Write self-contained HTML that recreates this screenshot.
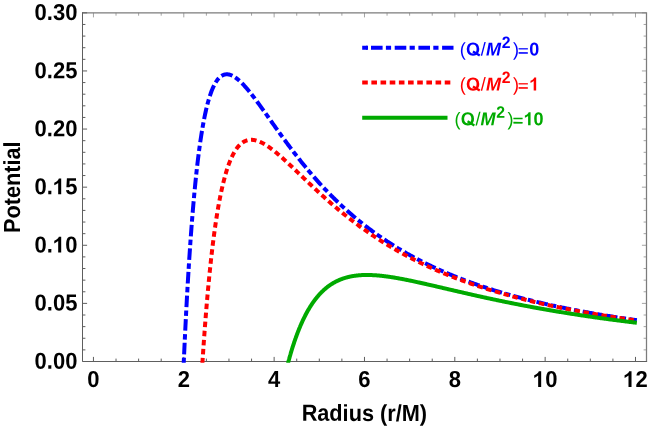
<!DOCTYPE html>
<html><head><meta charset="utf-8"><title>Potential</title>
<style>
html,body{margin:0;padding:0;background:#fff;}
svg{display:block;will-change:transform;text-rendering:geometricPrecision;font-family:"Liberation Sans",sans-serif;}
</style></head><body>
<svg width="654" height="428" viewBox="0 0 654 428">
<rect width="654" height="428" fill="#fff"/>
<defs><clipPath id="c"><rect x="82.5" y="12.8" width="564.0" height="350.0"/></clipPath></defs>
<g fill="none" stroke="#a4a4a4" stroke-width="1">
<line x1="93.45" y1="12.8" x2="93.45" y2="17.4"/>
<line x1="116.03" y1="12.8" x2="116.03" y2="15.700000000000001"/>
<line x1="138.62" y1="12.8" x2="138.62" y2="15.700000000000001"/>
<line x1="161.20" y1="12.8" x2="161.20" y2="15.700000000000001"/>
<line x1="183.79" y1="12.8" x2="183.79" y2="17.4"/>
<line x1="206.38" y1="12.8" x2="206.38" y2="15.700000000000001"/>
<line x1="228.96" y1="12.8" x2="228.96" y2="15.700000000000001"/>
<line x1="251.55" y1="12.8" x2="251.55" y2="15.700000000000001"/>
<line x1="274.13" y1="12.8" x2="274.13" y2="17.4"/>
<line x1="296.72" y1="12.8" x2="296.72" y2="15.700000000000001"/>
<line x1="319.30" y1="12.8" x2="319.30" y2="15.700000000000001"/>
<line x1="341.88" y1="12.8" x2="341.88" y2="15.700000000000001"/>
<line x1="364.47" y1="12.8" x2="364.47" y2="17.4"/>
<line x1="387.06" y1="12.8" x2="387.06" y2="15.700000000000001"/>
<line x1="409.64" y1="12.8" x2="409.64" y2="15.700000000000001"/>
<line x1="432.23" y1="12.8" x2="432.23" y2="15.700000000000001"/>
<line x1="454.81" y1="12.8" x2="454.81" y2="17.4"/>
<line x1="477.39" y1="12.8" x2="477.39" y2="15.700000000000001"/>
<line x1="499.98" y1="12.8" x2="499.98" y2="15.700000000000001"/>
<line x1="522.57" y1="12.8" x2="522.57" y2="15.700000000000001"/>
<line x1="545.15" y1="12.8" x2="545.15" y2="17.4"/>
<line x1="567.74" y1="12.8" x2="567.74" y2="15.700000000000001"/>
<line x1="590.32" y1="12.8" x2="590.32" y2="15.700000000000001"/>
<line x1="612.91" y1="12.8" x2="612.91" y2="15.700000000000001"/>
<line x1="635.49" y1="12.8" x2="635.49" y2="17.4"/>
<line x1="646.5" y1="361.50" x2="641.9" y2="361.50"/>
<line x1="646.5" y1="349.88" x2="643.6" y2="349.88"/>
<line x1="646.5" y1="338.26" x2="643.6" y2="338.26"/>
<line x1="646.5" y1="326.63" x2="643.6" y2="326.63"/>
<line x1="646.5" y1="315.01" x2="643.6" y2="315.01"/>
<line x1="646.5" y1="303.39" x2="641.9" y2="303.39"/>
<line x1="646.5" y1="291.77" x2="643.6" y2="291.77"/>
<line x1="646.5" y1="280.15" x2="643.6" y2="280.15"/>
<line x1="646.5" y1="268.52" x2="643.6" y2="268.52"/>
<line x1="646.5" y1="256.90" x2="643.6" y2="256.90"/>
<line x1="646.5" y1="245.28" x2="641.9" y2="245.28"/>
<line x1="646.5" y1="233.66" x2="643.6" y2="233.66"/>
<line x1="646.5" y1="222.04" x2="643.6" y2="222.04"/>
<line x1="646.5" y1="210.41" x2="643.6" y2="210.41"/>
<line x1="646.5" y1="198.79" x2="643.6" y2="198.79"/>
<line x1="646.5" y1="187.17" x2="641.9" y2="187.17"/>
<line x1="646.5" y1="175.55" x2="643.6" y2="175.55"/>
<line x1="646.5" y1="163.93" x2="643.6" y2="163.93"/>
<line x1="646.5" y1="152.30" x2="643.6" y2="152.30"/>
<line x1="646.5" y1="140.68" x2="643.6" y2="140.68"/>
<line x1="646.5" y1="129.06" x2="641.9" y2="129.06"/>
<line x1="646.5" y1="117.44" x2="643.6" y2="117.44"/>
<line x1="646.5" y1="105.82" x2="643.6" y2="105.82"/>
<line x1="646.5" y1="94.19" x2="643.6" y2="94.19"/>
<line x1="646.5" y1="82.57" x2="643.6" y2="82.57"/>
<line x1="646.5" y1="70.95" x2="641.9" y2="70.95"/>
<line x1="646.5" y1="59.33" x2="643.6" y2="59.33"/>
<line x1="646.5" y1="47.71" x2="643.6" y2="47.71"/>
<line x1="646.5" y1="36.08" x2="643.6" y2="36.08"/>
<line x1="646.5" y1="24.46" x2="643.6" y2="24.46"/>
<line x1="646.5" y1="12.84" x2="641.9" y2="12.84"/>
</g>
<path d="M82.5,12.8 H646.5 V361.5" fill="none" stroke="#7c7c7c" stroke-width="1.25"/>
<g fill="none" stroke="#5e5e5e" stroke-width="1">
<path d="M82.5,12.200000000000001 V361.5 H647.1"/>
<line x1="93.45" y1="361.5" x2="93.45" y2="356.9"/>
<line x1="116.03" y1="361.5" x2="116.03" y2="358.6"/>
<line x1="138.62" y1="361.5" x2="138.62" y2="358.6"/>
<line x1="161.20" y1="361.5" x2="161.20" y2="358.6"/>
<line x1="183.79" y1="361.5" x2="183.79" y2="356.9"/>
<line x1="206.38" y1="361.5" x2="206.38" y2="358.6"/>
<line x1="228.96" y1="361.5" x2="228.96" y2="358.6"/>
<line x1="251.55" y1="361.5" x2="251.55" y2="358.6"/>
<line x1="274.13" y1="361.5" x2="274.13" y2="356.9"/>
<line x1="296.72" y1="361.5" x2="296.72" y2="358.6"/>
<line x1="319.30" y1="361.5" x2="319.30" y2="358.6"/>
<line x1="341.88" y1="361.5" x2="341.88" y2="358.6"/>
<line x1="364.47" y1="361.5" x2="364.47" y2="356.9"/>
<line x1="387.06" y1="361.5" x2="387.06" y2="358.6"/>
<line x1="409.64" y1="361.5" x2="409.64" y2="358.6"/>
<line x1="432.23" y1="361.5" x2="432.23" y2="358.6"/>
<line x1="454.81" y1="361.5" x2="454.81" y2="356.9"/>
<line x1="477.39" y1="361.5" x2="477.39" y2="358.6"/>
<line x1="499.98" y1="361.5" x2="499.98" y2="358.6"/>
<line x1="522.57" y1="361.5" x2="522.57" y2="358.6"/>
<line x1="545.15" y1="361.5" x2="545.15" y2="356.9"/>
<line x1="567.74" y1="361.5" x2="567.74" y2="358.6"/>
<line x1="590.32" y1="361.5" x2="590.32" y2="358.6"/>
<line x1="612.91" y1="361.5" x2="612.91" y2="358.6"/>
<line x1="635.49" y1="361.5" x2="635.49" y2="356.9"/>
<line x1="82.5" y1="361.50" x2="87.1" y2="361.50"/>
<line x1="82.5" y1="349.88" x2="85.4" y2="349.88"/>
<line x1="82.5" y1="338.26" x2="85.4" y2="338.26"/>
<line x1="82.5" y1="326.63" x2="85.4" y2="326.63"/>
<line x1="82.5" y1="315.01" x2="85.4" y2="315.01"/>
<line x1="82.5" y1="303.39" x2="87.1" y2="303.39"/>
<line x1="82.5" y1="291.77" x2="85.4" y2="291.77"/>
<line x1="82.5" y1="280.15" x2="85.4" y2="280.15"/>
<line x1="82.5" y1="268.52" x2="85.4" y2="268.52"/>
<line x1="82.5" y1="256.90" x2="85.4" y2="256.90"/>
<line x1="82.5" y1="245.28" x2="87.1" y2="245.28"/>
<line x1="82.5" y1="233.66" x2="85.4" y2="233.66"/>
<line x1="82.5" y1="222.04" x2="85.4" y2="222.04"/>
<line x1="82.5" y1="210.41" x2="85.4" y2="210.41"/>
<line x1="82.5" y1="198.79" x2="85.4" y2="198.79"/>
<line x1="82.5" y1="187.17" x2="87.1" y2="187.17"/>
<line x1="82.5" y1="175.55" x2="85.4" y2="175.55"/>
<line x1="82.5" y1="163.93" x2="85.4" y2="163.93"/>
<line x1="82.5" y1="152.30" x2="85.4" y2="152.30"/>
<line x1="82.5" y1="140.68" x2="85.4" y2="140.68"/>
<line x1="82.5" y1="129.06" x2="87.1" y2="129.06"/>
<line x1="82.5" y1="117.44" x2="85.4" y2="117.44"/>
<line x1="82.5" y1="105.82" x2="85.4" y2="105.82"/>
<line x1="82.5" y1="94.19" x2="85.4" y2="94.19"/>
<line x1="82.5" y1="82.57" x2="85.4" y2="82.57"/>
<line x1="82.5" y1="70.95" x2="87.1" y2="70.95"/>
<line x1="82.5" y1="59.33" x2="85.4" y2="59.33"/>
<line x1="82.5" y1="47.71" x2="85.4" y2="47.71"/>
<line x1="82.5" y1="36.08" x2="85.4" y2="36.08"/>
<line x1="82.5" y1="24.46" x2="85.4" y2="24.46"/>
<line x1="82.5" y1="12.84" x2="87.1" y2="12.84"/>
</g>
<g clip-path="url(#c)" fill="none" stroke-width="4.0" stroke-linejoin="round">
<path d="M183.66,364.50 L183.67,364.21 L183.70,363.62 L183.73,362.83 L183.77,361.85 L183.82,360.72 L183.88,359.45 L183.94,358.05 L184.01,356.54 L184.09,354.91 L184.16,353.18 L184.25,351.35 L184.34,349.43 L184.43,347.43 L184.53,345.34 L184.63,343.18 L184.73,340.95 L184.84,338.65 L184.96,336.28 L185.07,333.86 L185.19,331.37 L185.32,328.84 L185.45,326.25 L185.58,323.61 L185.72,320.93 L185.85,318.21 L186.00,315.45 L186.14,312.65 L186.29,309.82 L186.44,306.96 L186.60,304.07 L186.76,301.15 L186.92,298.21 L187.08,295.25 L187.25,292.27 L187.42,289.27 L187.59,286.25 L187.77,283.22 L187.95,280.18 L188.13,277.13 L188.32,274.08 L188.51,271.01 L188.70,267.95 L188.89,264.88 L189.09,261.81 L189.28,258.74 L189.49,255.67 L189.69,252.60 L189.90,249.54 L190.11,246.49 L190.32,243.45 L190.53,240.41 L190.75,237.39 L190.97,234.37 L191.19,231.37 L191.41,228.39 L191.64,225.41 L191.87,222.46 L192.10,219.52 L192.34,216.60 L192.57,213.70 L192.81,210.82 L193.05,207.96 L193.30,205.12 L193.54,202.31 L193.79,199.52 L194.04,196.75 L194.29,194.01 L194.55,191.29 L194.81,188.60 L195.07,185.94 L195.33,183.30 L195.59,180.69 L195.86,178.11 L196.13,175.56 L196.40,173.04 L196.67,170.55 L196.95,168.09 L197.22,165.66 L197.50,163.26 L197.78,160.89 L198.07,158.55 L198.35,156.25 L198.64,153.98 L198.93,151.74 L199.22,149.53 L199.52,147.36 L199.81,145.22 L200.11,143.11 L200.41,141.04 L200.71,139.00 L201.02,137.00 L201.32,135.03 L201.63,133.09 L201.94,131.19 L202.26,129.32 L202.57,127.48 L202.89,125.68 L203.20,123.91 L203.52,122.18 L203.85,120.48 L204.17,118.82 L204.50,117.19 L204.82,115.59 L205.15,114.03 L205.49,112.50 L205.82,111.01 L206.15,109.54 L206.49,108.11 L206.83,106.72 L207.17,105.36 L207.52,104.03 L207.86,102.73 L208.21,101.47 L208.56,100.24 L208.91,99.04 L209.26,97.87 L209.61,96.74 L209.97,95.63 L210.33,94.56 L210.68,93.52 L211.05,92.51 L211.41,91.53 L211.77,90.58 L212.14,89.66 L212.51,88.77 L212.88,87.91 L213.25,87.08 L213.62,86.28 L214.00,85.51 L214.38,84.76 L214.76,84.05 L215.14,83.36 L215.52,82.70 L215.90,82.07 L216.29,81.47 L216.68,80.89 L217.07,80.34 L217.46,79.81 L217.85,79.31 L218.24,78.84 L218.64,78.39 L219.04,77.97 L219.44,77.57 L219.84,77.20 L220.24,76.85 L220.65,76.52 L221.05,76.22 L221.46,75.94 L221.87,75.69 L222.28,75.46 L222.69,75.24 L223.11,75.06 L223.53,74.89 L223.94,74.74 L224.36,74.62 L224.78,74.52 L225.21,74.43 L225.63,74.37 L226.06,74.33 L226.48,74.31 L226.91,74.30 L227.34,74.32 L227.78,74.35 L228.21,74.40 L228.64,74.47 L229.08,74.56 L229.52,74.67 L229.96,74.79 L230.40,74.93 L230.85,75.09 L231.29,75.27 L231.74,75.46 L232.18,75.66 L232.63,75.88 L233.09,76.12 L233.54,76.37 L233.99,76.64 L234.45,76.92 L234.91,77.22 L235.36,77.52 L235.82,77.85 L236.29,78.19 L236.75,78.54 L237.22,78.90 L237.68,79.28 L238.15,79.66 L238.62,80.06 L239.09,80.48 L239.56,80.90 L240.04,81.34 L240.51,81.79 L240.99,82.24 L241.47,82.71 L241.95,83.19 L242.43,83.68 L242.91,84.19 L243.40,84.70 L243.88,85.22 L244.37,85.75 L244.86,86.29 L245.35,86.83 L245.84,87.39 L246.33,87.96 L246.83,88.53 L247.33,89.11 L247.82,89.71 L248.32,90.30 L248.82,90.91 L249.32,91.53 L249.83,92.15 L250.33,92.78 L250.84,93.41 L251.35,94.05 L251.86,94.70 L252.37,95.36 L252.88,96.02 L253.39,96.69 L253.91,97.36 L254.42,98.04 L254.94,98.73 L255.46,99.42 L255.98,100.11 L256.50,100.81 L257.03,101.52 L257.55,102.23 L258.08,102.95 L258.60,103.67 L259.13,104.39 L259.66,105.12 L260.20,105.85 L260.73,106.59 L261.26,107.33 L261.80,108.08 L262.34,108.82 L262.88,109.58 L263.42,110.33 L263.96,111.09 L264.50,111.85 L265.04,112.61 L265.59,113.38 L266.14,114.15 L266.68,114.92 L267.23,115.70 L267.78,116.48 L268.34,117.26 L268.89,118.04 L269.45,118.82 L270.00,119.61 L270.56,120.39 L271.12,121.18 L271.68,121.97 L272.24,122.77 L272.80,123.56 L273.37,124.36 L273.93,125.15 L274.50,125.95 L275.07,126.75 L275.64,127.55 L276.21,128.35 L276.78,129.15 L277.36,129.96 L277.93,130.76 L278.51,131.56 L279.09,132.37 L279.67,133.17 L280.25,133.98 L280.83,134.78 L281.41,135.59 L281.99,136.39 L282.58,137.20 L283.17,138.01 L283.76,138.81 L284.34,139.62 L284.94,140.42 L285.53,141.23 L286.12,142.03 L286.72,142.84 L287.31,143.64 L287.91,144.45 L288.51,145.25 L289.11,146.05 L289.71,146.85 L290.31,147.66 L290.91,148.46 L291.52,149.26 L292.13,150.06 L292.73,150.85 L293.34,151.65 L293.95,152.45 L294.56,153.24 L295.17,154.04 L295.79,154.83 L296.40,155.62 L297.02,156.41 L297.64,157.20 L298.26,157.99 L298.88,158.78 L299.50,159.56 L300.12,160.35 L300.74,161.13 L301.37,161.91 L302.00,162.69 L302.62,163.47 L303.25,164.24 L303.88,165.02 L304.51,165.79 L305.15,166.56 L305.78,167.33 L306.41,168.10 L307.05,168.87 L307.69,169.63 L308.33,170.39 L308.97,171.16 L309.61,171.92 L310.25,172.67 L310.89,173.43 L311.54,174.18 L312.19,174.93 L312.83,175.68 L313.48,176.43 L314.13,177.18 L314.78,177.92 L315.43,178.66 L316.09,179.40 L316.74,180.14 L317.40,180.87 L318.05,181.61 L318.71,182.34 L319.37,183.07 L320.03,183.79 L320.69,184.52 L321.36,185.24 L322.02,185.96 L322.69,186.68 L323.35,187.39 L324.02,188.11 L324.69,188.82 L325.36,189.53 L326.03,190.23 L326.71,190.94 L327.38,191.64 L328.05,192.34 L328.73,193.04 L329.41,193.73 L330.09,194.42 L330.77,195.11 L331.45,195.80 L332.13,196.49 L332.81,197.17 L333.50,197.85 L334.18,198.53 L334.87,199.21 L335.56,199.88 L336.25,200.55 L336.94,201.22 L337.63,201.89 L338.32,202.55 L339.01,203.21 L339.71,203.87 L340.40,204.53 L341.10,205.18 L341.80,205.84 L342.50,206.49 L343.20,207.13 L343.90,207.78 L344.60,208.42 L345.31,209.06 L346.01,209.70 L346.72,210.33 L347.43,210.96 L348.14,211.59 L348.85,212.22 L349.56,212.85 L350.27,213.47 L350.98,214.09 L351.70,214.71 L352.41,215.32 L353.13,215.94 L353.85,216.55 L354.57,217.16 L355.29,217.76 L356.01,218.36 L356.73,218.96 L357.46,219.56 L358.18,220.16 L358.91,220.75 L359.63,221.34 L360.36,221.93 L361.09,222.52 L361.82,223.10 L362.55,223.68 L363.28,224.26 L364.02,224.84 L364.75,225.41 L365.49,225.99 L366.23,226.55 L366.96,227.12 L367.70,227.69 L368.44,228.25 L369.19,228.81 L369.93,229.37 L370.67,229.92 L371.42,230.47 L372.16,231.02 L372.91,231.57 L373.66,232.12 L374.41,232.66 L375.16,233.20 L375.91,233.74 L376.66,234.28 L377.42,234.81 L378.17,235.34 L378.93,235.87 L379.68,236.40 L380.44,236.93 L381.20,237.45 L381.96,237.97 L382.72,238.49 L383.49,239.00 L384.25,239.52 L385.01,240.03 L385.78,240.54 L386.55,241.04 L387.31,241.55 L388.08,242.05 L388.85,242.55 L389.63,243.05 L390.40,243.54 L391.17,244.04 L391.95,244.53 L392.72,245.02 L393.50,245.50 L394.28,245.99 L395.05,246.47 L395.83,246.95 L396.61,247.43 L397.40,247.91 L398.18,248.38 L398.96,248.85 L399.75,249.32 L400.54,249.79 L401.32,250.26 L402.11,250.72 L402.90,251.18 L403.69,251.64 L404.48,252.10 L405.28,252.55 L406.07,253.00 L406.86,253.46 L407.66,253.90 L408.46,254.35 L409.26,254.80 L410.05,255.24 L410.86,255.68 L411.66,256.12 L412.46,256.56 L413.26,256.99 L414.07,257.42 L414.87,257.85 L415.68,258.28 L416.49,258.71 L417.29,259.13 L418.10,259.56 L418.91,259.98 L419.73,260.40 L420.54,260.81 L421.35,261.23 L422.17,261.64 L422.98,262.05 L423.80,262.46 L424.62,262.87 L425.44,263.28 L426.26,263.68 L427.08,264.08 L427.90,264.48 L428.72,264.88 L429.55,265.28 L430.37,265.67 L431.20,266.07 L432.03,266.46 L432.86,266.85 L433.69,267.23 L434.52,267.62 L435.35,268.00 L436.18,268.39 L437.01,268.77 L437.85,269.14 L438.68,269.52 L439.52,269.90 L440.36,270.27 L441.20,270.64 L442.04,271.01 L442.88,271.38 L443.72,271.75 L444.56,272.11 L445.41,272.47 L446.25,272.83 L447.10,273.19 L447.94,273.55 L448.79,273.91 L449.64,274.26 L450.49,274.62 L451.34,274.97 L452.19,275.32 L453.05,275.66 L453.90,276.01 L454.76,276.36 L455.61,276.70 L456.47,277.04 L457.33,277.38 L458.19,277.72 L459.05,278.06 L459.91,278.39 L460.77,278.73 L461.63,279.06 L462.50,279.39 L463.36,279.72 L464.23,280.05 L465.10,280.37 L465.96,280.70 L466.83,281.02 L467.70,281.34 L468.57,281.66 L469.45,281.98 L470.32,282.30 L471.19,282.61 L472.07,282.93 L472.94,283.24 L473.82,283.55 L474.70,283.86 L475.58,284.17 L476.46,284.48 L477.34,284.78 L478.22,285.09 L479.11,285.39 L479.99,285.69 L480.87,285.99 L481.76,286.29 L482.65,286.58 L483.54,286.88 L484.42,287.17 L485.31,287.47 L486.21,287.76 L487.10,288.05 L487.99,288.34 L488.88,288.63 L489.78,288.91 L490.68,289.20 L491.57,289.48 L492.47,289.76 L493.37,290.04 L494.27,290.32 L495.17,290.60 L496.07,290.88 L496.97,291.15 L497.88,291.43 L498.78,291.70 L499.69,291.97 L500.59,292.25 L501.50,292.51 L502.41,292.78 L503.32,293.05 L504.23,293.32 L505.14,293.58 L506.06,293.84 L506.97,294.11 L507.88,294.37 L508.80,294.63 L509.71,294.89 L510.63,295.14 L511.55,295.40 L512.47,295.65 L513.39,295.91 L514.31,296.16 L515.23,296.41 L516.16,296.66 L517.08,296.91 L518.01,297.16 L518.93,297.41 L519.86,297.65 L520.79,297.90 L521.72,298.14 L522.65,298.38 L523.58,298.62 L524.51,298.86 L525.44,299.10 L526.37,299.34 L527.31,299.58 L528.24,299.81 L529.18,300.05 L530.12,300.28 L531.06,300.51 L532.00,300.74 L532.94,300.98 L533.88,301.20 L534.82,301.43 L535.76,301.66 L536.71,301.89 L537.65,302.11 L538.60,302.34 L539.55,302.56 L540.49,302.78 L541.44,303.00 L542.39,303.22 L543.34,303.44 L544.29,303.66 L545.25,303.88 L546.20,304.09 L547.16,304.31 L548.11,304.52 L549.07,304.74 L550.02,304.95 L550.98,305.16 L551.94,305.37 L552.90,305.58 L553.86,305.79 L554.83,306.00 L555.79,306.20 L556.75,306.41 L557.72,306.61 L558.68,306.82 L559.65,307.02 L560.62,307.22 L561.59,307.42 L562.56,307.62 L563.53,307.82 L564.50,308.02 L565.47,308.22 L566.44,308.41 L567.42,308.61 L568.39,308.80 L569.37,309.00 L570.35,309.19 L571.32,309.38 L572.30,309.57 L573.28,309.77 L574.26,309.95 L575.24,310.14 L576.23,310.33 L577.21,310.52 L578.19,310.71 L579.18,310.89 L580.17,311.08 L581.15,311.26 L582.14,311.44 L583.13,311.62 L584.12,311.81 L585.11,311.99 L586.10,312.17 L587.09,312.34 L588.09,312.52 L589.08,312.70 L590.08,312.88 L591.07,313.05 L592.07,313.23 L593.07,313.40 L594.07,313.58 L595.07,313.75 L596.07,313.92 L597.07,314.09 L598.07,314.26 L599.08,314.43 L600.08,314.60 L601.09,314.77 L602.09,314.94 L603.10,315.10 L604.11,315.27 L605.12,315.43 L606.13,315.60 L607.14,315.76 L608.15,315.93 L609.16,316.09 L610.18,316.25 L611.19,316.41 L612.21,316.57 L613.22,316.73 L614.24,316.89 L615.26,317.05 L616.28,317.20 L617.30,317.36 L618.32,317.52 L619.34,317.67 L620.36,317.83 L621.39,317.98 L622.41,318.13 L623.44,318.29 L624.46,318.44 L625.49,318.59 L626.52,318.74 L627.55,318.89 L628.57,319.04 L629.61,319.19 L630.64,319.34 L631.67,319.49 L632.70,319.63 L633.74,319.78 L634.77,319.92 L635.81,320.07 L636.85,320.21" stroke="#0000ff" stroke-dasharray="5.48 3.39 11.57 3.19" stroke-dashoffset="22.29"/>
<path d="M202.31,364.50 L202.32,364.31 L202.34,363.92 L202.38,363.40 L202.42,362.76 L202.47,362.02 L202.52,361.18 L202.58,360.26 L202.65,359.26 L202.72,358.19 L202.79,357.05 L202.87,355.85 L202.96,354.58 L203.05,353.25 L203.14,351.87 L203.24,350.44 L203.34,348.96 L203.44,347.43 L203.55,345.86 L203.66,344.25 L203.78,342.59 L203.90,340.90 L204.02,339.17 L204.15,337.41 L204.28,335.61 L204.41,333.78 L204.55,331.93 L204.69,330.05 L204.83,328.14 L204.98,326.20 L205.13,324.25 L205.28,322.27 L205.43,320.28 L205.59,318.27 L205.75,316.23 L205.91,314.19 L206.08,312.13 L206.25,310.05 L206.42,307.97 L206.60,305.87 L206.77,303.77 L206.95,301.65 L207.14,299.53 L207.32,297.41 L207.51,295.27 L207.70,293.14 L207.89,291.00 L208.09,288.86 L208.29,286.71 L208.49,284.57 L208.69,282.43 L208.90,280.29 L209.11,278.15 L209.32,276.01 L209.53,273.88 L209.74,271.76 L209.96,269.63 L210.18,267.52 L210.40,265.41 L210.63,263.31 L210.85,261.22 L211.08,259.14 L211.32,257.06 L211.55,255.00 L211.78,252.95 L212.02,250.90 L212.26,248.87 L212.51,246.86 L212.75,244.85 L213.00,242.86 L213.25,240.88 L213.50,238.92 L213.75,236.97 L214.01,235.04 L214.26,233.12 L214.52,231.22 L214.78,229.34 L215.05,227.47 L215.31,225.62 L215.58,223.78 L215.85,221.97 L216.12,220.17 L216.40,218.39 L216.67,216.63 L216.95,214.88 L217.23,213.16 L217.51,211.46 L217.80,209.77 L218.08,208.11 L218.37,206.46 L218.66,204.84 L218.95,203.23 L219.25,201.65 L219.54,200.08 L219.84,198.54 L220.14,197.02 L220.44,195.51 L220.74,194.03 L221.05,192.57 L221.36,191.13 L221.66,189.72 L221.97,188.32 L222.29,186.95 L222.60,185.59 L222.92,184.26 L223.24,182.95 L223.56,181.66 L223.88,180.39 L224.20,179.15 L224.53,177.92 L224.85,176.72 L225.18,175.54 L225.51,174.37 L225.85,173.24 L226.18,172.12 L226.52,171.02 L226.85,169.94 L227.19,168.89 L227.53,167.86 L227.88,166.84 L228.22,165.85 L228.57,164.88 L228.92,163.93 L229.27,163.00 L229.62,162.10 L229.97,161.21 L230.33,160.34 L230.68,159.49 L231.04,158.67 L231.40,157.86 L231.76,157.07 L232.13,156.31 L232.49,155.56 L232.86,154.83 L233.23,154.12 L233.60,153.43 L233.97,152.76 L234.34,152.11 L234.72,151.48 L235.09,150.87 L235.47,150.27 L235.85,149.69 L236.23,149.14 L236.61,148.60 L237.00,148.07 L237.39,147.57 L237.77,147.08 L238.16,146.61 L238.55,146.16 L238.95,145.73 L239.34,145.31 L239.74,144.91 L240.13,144.52 L240.53,144.16 L240.93,143.80 L241.34,143.47 L241.74,143.15 L242.14,142.85 L242.55,142.56 L242.96,142.29 L243.37,142.03 L243.78,141.79 L244.19,141.56 L244.61,141.35 L245.02,141.15 L245.44,140.97 L245.86,140.80 L246.28,140.64 L246.70,140.50 L247.13,140.38 L247.55,140.26 L247.98,140.16 L248.41,140.08 L248.84,140.00 L249.27,139.94 L249.70,139.89 L250.13,139.86 L250.57,139.83 L251.01,139.82 L251.45,139.82 L251.89,139.84 L252.33,139.86 L252.77,139.90 L253.21,139.94 L253.66,140.00 L254.11,140.07 L254.56,140.15 L255.01,140.25 L255.46,140.35 L255.91,140.46 L256.37,140.58 L256.82,140.72 L257.28,140.86 L257.74,141.01 L258.20,141.17 L258.66,141.34 L259.12,141.53 L259.59,141.72 L260.05,141.92 L260.52,142.12 L260.99,142.34 L261.46,142.57 L261.93,142.80 L262.40,143.04 L262.88,143.29 L263.35,143.55 L263.83,143.82 L264.31,144.09 L264.79,144.37 L265.27,144.66 L265.75,144.96 L266.24,145.26 L266.72,145.57 L267.21,145.89 L267.70,146.21 L268.19,146.55 L268.68,146.88 L269.17,147.23 L269.66,147.58 L270.16,147.93 L270.66,148.30 L271.15,148.67 L271.65,149.04 L272.15,149.42 L272.66,149.81 L273.16,150.20 L273.66,150.59 L274.17,151.00 L274.68,151.40 L275.18,151.81 L275.69,152.23 L276.21,152.65 L276.72,153.08 L277.23,153.51 L277.75,153.95 L278.26,154.39 L278.78,154.83 L279.30,155.28 L279.82,155.73 L280.34,156.19 L280.87,156.65 L281.39,157.11 L281.92,157.58 L282.44,158.05 L282.97,158.53 L283.50,159.00 L284.03,159.49 L284.56,159.97 L285.10,160.46 L285.63,160.95 L286.17,161.45 L286.71,161.94 L287.24,162.44 L287.78,162.95 L288.33,163.45 L288.87,163.96 L289.41,164.47 L289.96,164.98 L290.50,165.50 L291.05,166.02 L291.60,166.54 L292.15,167.06 L292.70,167.58 L293.25,168.11 L293.81,168.64 L294.36,169.17 L294.92,169.70 L295.48,170.23 L296.04,170.77 L296.60,171.30 L297.16,171.84 L297.72,172.38 L298.28,172.92 L298.85,173.46 L299.42,174.01 L299.98,174.55 L300.55,175.10 L301.12,175.65 L301.69,176.19 L302.27,176.74 L302.84,177.29 L303.42,177.85 L303.99,178.40 L304.57,178.95 L305.15,179.50 L305.73,180.06 L306.31,180.61 L306.89,181.17 L307.48,181.73 L308.06,182.28 L308.65,182.84 L309.23,183.40 L309.82,183.96 L310.41,184.51 L311.00,185.07 L311.60,185.63 L312.19,186.19 L312.78,186.75 L313.38,187.31 L313.98,187.87 L314.57,188.43 L315.17,188.99 L315.77,189.55 L316.38,190.10 L316.98,190.66 L317.58,191.22 L318.19,191.78 L318.80,192.34 L319.40,192.90 L320.01,193.46 L320.62,194.02 L321.23,194.57 L321.85,195.13 L322.46,195.69 L323.07,196.24 L323.69,196.80 L324.31,197.35 L324.93,197.91 L325.55,198.46 L326.17,199.02 L326.79,199.57 L327.41,200.12 L328.03,200.67 L328.66,201.23 L329.29,201.78 L329.91,202.33 L330.54,202.88 L331.17,203.42 L331.80,203.97 L332.44,204.52 L333.07,205.06 L333.70,205.61 L334.34,206.15 L334.98,206.70 L335.62,207.24 L336.25,207.78 L336.89,208.32 L337.54,208.86 L338.18,209.40 L338.82,209.94 L339.47,210.47 L340.11,211.01 L340.76,211.54 L341.41,212.07 L342.06,212.61 L342.71,213.14 L343.36,213.67 L344.01,214.20 L344.67,214.72 L345.32,215.25 L345.98,215.78 L346.64,216.30 L347.29,216.82 L347.95,217.35 L348.61,217.87 L349.28,218.39 L349.94,218.90 L350.60,219.42 L351.27,219.94 L351.94,220.45 L352.60,220.96 L353.27,221.47 L353.94,221.98 L354.61,222.49 L355.28,223.00 L355.96,223.51 L356.63,224.01 L357.31,224.52 L357.98,225.02 L358.66,225.52 L359.34,226.02 L360.02,226.52 L360.70,227.01 L361.38,227.51 L362.06,228.00 L362.75,228.50 L363.43,228.99 L364.12,229.48 L364.81,229.96 L365.49,230.45 L366.18,230.94 L366.87,231.42 L367.57,231.90 L368.26,232.38 L368.95,232.86 L369.65,233.34 L370.34,233.82 L371.04,234.29 L371.74,234.77 L372.44,235.24 L373.14,235.71 L373.84,236.18 L374.54,236.65 L375.25,237.11 L375.95,237.58 L376.66,238.04 L377.36,238.50 L378.07,238.96 L378.78,239.42 L379.49,239.88 L380.20,240.33 L380.91,240.79 L381.63,241.24 L382.34,241.69 L383.05,242.14 L383.77,242.59 L384.49,243.03 L385.21,243.48 L385.93,243.92 L386.65,244.36 L387.37,244.81 L388.09,245.24 L388.82,245.68 L389.54,246.12 L390.27,246.55 L390.99,246.98 L391.72,247.42 L392.45,247.85 L393.18,248.27 L393.91,248.70 L394.64,249.13 L395.38,249.55 L396.11,249.97 L396.85,250.39 L397.58,250.81 L398.32,251.23 L399.06,251.64 L399.80,252.06 L400.54,252.47 L401.28,252.88 L402.02,253.29 L402.77,253.70 L403.51,254.11 L404.26,254.51 L405.00,254.92 L405.75,255.32 L406.50,255.72 L407.25,256.12 L408.00,256.52 L408.75,256.92 L409.51,257.31 L410.26,257.70 L411.01,258.10 L411.77,258.49 L412.53,258.88 L413.29,259.26 L414.05,259.65 L414.81,260.03 L415.57,260.42 L416.33,260.80 L417.09,261.18 L417.86,261.56 L418.62,261.93 L419.39,262.31 L420.15,262.68 L420.92,263.06 L421.69,263.43 L422.46,263.80 L423.23,264.17 L424.01,264.53 L424.78,264.90 L425.55,265.26 L426.33,265.63 L427.11,265.99 L427.88,266.35 L428.66,266.71 L429.44,267.06 L430.22,267.42 L431.00,267.77 L431.78,268.13 L432.57,268.48 L433.35,268.83 L434.14,269.18 L434.92,269.53 L435.71,269.87 L436.50,270.22 L437.29,270.56 L438.08,270.90 L438.87,271.24 L439.66,271.58 L440.46,271.92 L441.25,272.26 L442.05,272.59 L442.84,272.92 L443.64,273.26 L444.44,273.59 L445.24,273.92 L446.04,274.25 L446.84,274.57 L447.64,274.90 L448.44,275.22 L449.25,275.55 L450.05,275.87 L450.86,276.19 L451.67,276.51 L452.48,276.83 L453.28,277.14 L454.09,277.46 L454.91,277.77 L455.72,278.08 L456.53,278.40 L457.34,278.71 L458.16,279.01 L458.98,279.32 L459.79,279.63 L460.61,279.93 L461.43,280.24 L462.25,280.54 L463.07,280.84 L463.89,281.14 L464.71,281.44 L465.54,281.74 L466.36,282.03 L467.19,282.33 L468.02,282.62 L468.84,282.92 L469.67,283.21 L470.50,283.50 L471.33,283.79 L472.16,284.08 L473.00,284.36 L473.83,284.65 L474.66,284.93 L475.50,285.22 L476.33,285.50 L477.17,285.78 L478.01,286.06 L478.85,286.34 L479.69,286.62 L480.53,286.89 L481.37,287.17 L482.21,287.44 L483.06,287.71 L483.90,287.99 L484.75,288.26 L485.60,288.53 L486.44,288.79 L487.29,289.06 L488.14,289.33 L488.99,289.59 L489.84,289.86 L490.70,290.12 L491.55,290.38 L492.40,290.64 L493.26,290.90 L494.12,291.16 L494.97,291.42 L495.83,291.67 L496.69,291.93 L497.55,292.18 L498.41,292.44 L499.27,292.69 L500.14,292.94 L501.00,293.19 L501.86,293.44 L502.73,293.68 L503.60,293.93 L504.46,294.18 L505.33,294.42 L506.20,294.67 L507.07,294.91 L507.94,295.15 L508.82,295.39 L509.69,295.63 L510.56,295.87 L511.44,296.11 L512.31,296.34 L513.19,296.58 L514.07,296.81 L514.95,297.05 L515.83,297.28 L516.71,297.51 L517.59,297.74 L518.47,297.97 L519.35,298.20 L520.24,298.43 L521.12,298.66 L522.01,298.88 L522.90,299.11 L523.78,299.33 L524.67,299.56 L525.56,299.78 L526.45,300.00 L527.34,300.22 L528.24,300.44 L529.13,300.66 L530.02,300.88 L530.92,301.09 L531.82,301.31 L532.71,301.52 L533.61,301.74 L534.51,301.95 L535.41,302.16 L536.31,302.37 L537.21,302.58 L538.12,302.79 L539.02,303.00 L539.92,303.21 L540.83,303.42 L541.73,303.62 L542.64,303.83 L543.55,304.03 L544.46,304.24 L545.37,304.44 L546.28,304.64 L547.19,304.84 L548.10,305.04 L549.02,305.24 L549.93,305.44 L550.85,305.64 L551.76,305.84 L552.68,306.03 L553.60,306.23 L554.52,306.42 L555.44,306.62 L556.36,306.81 L557.28,307.00 L558.20,307.19 L559.12,307.38 L560.05,307.57 L560.97,307.76 L561.90,307.95 L562.83,308.14 L563.75,308.32 L564.68,308.51 L565.61,308.69 L566.54,308.88 L567.47,309.06 L568.41,309.24 L569.34,309.43 L570.27,309.61 L571.21,309.79 L572.14,309.97 L573.08,310.15 L574.02,310.32 L574.96,310.50 L575.90,310.68 L576.84,310.85 L577.78,311.03 L578.72,311.20 L579.66,311.38 L580.61,311.55 L581.55,311.72 L582.50,311.89 L583.44,312.07 L584.39,312.24 L585.34,312.41 L586.29,312.57 L587.24,312.74 L588.19,312.91 L589.14,313.08 L590.09,313.24 L591.05,313.41 L592.00,313.57 L592.96,313.74 L593.91,313.90 L594.87,314.06 L595.83,314.22 L596.79,314.39 L597.75,314.55 L598.71,314.71 L599.67,314.87 L600.63,315.02 L601.59,315.18 L602.56,315.34 L603.52,315.50 L604.49,315.65 L605.46,315.81 L606.42,315.96 L607.39,316.12 L608.36,316.27 L609.33,316.42 L610.30,316.58 L611.27,316.73 L612.25,316.88 L613.22,317.03 L614.19,317.18 L615.17,317.33 L616.15,317.48 L617.12,317.63 L618.10,317.77 L619.08,317.92 L620.06,318.07 L621.04,318.21 L622.02,318.36 L623.00,318.50 L623.99,318.65 L624.97,318.79 L625.96,318.93 L626.94,319.07 L627.93,319.22 L628.92,319.36 L629.90,319.50 L630.89,319.64 L631.88,319.78 L632.87,319.91 L633.86,320.05 L634.86,320.19 L635.85,320.33 L636.85,320.46" stroke="#ff0000" stroke-dasharray="5.515 3.581" stroke-dashoffset="8.07"/>
<path d="M287.63,364.50 L287.64,364.46 L287.66,364.39 L287.69,364.28 L287.72,364.16 L287.76,364.01 L287.81,363.84 L287.86,363.66 L287.91,363.46 L287.96,363.25 L288.03,363.02 L288.09,362.78 L288.16,362.52 L288.23,362.25 L288.30,361.98 L288.38,361.69 L288.46,361.38 L288.55,361.07 L288.64,360.75 L288.73,360.42 L288.82,360.08 L288.92,359.73 L289.01,359.37 L289.12,359.00 L289.22,358.62 L289.33,358.24 L289.44,357.85 L289.55,357.45 L289.66,357.04 L289.78,356.63 L289.90,356.21 L290.02,355.78 L290.15,355.35 L290.27,354.91 L290.40,354.46 L290.53,354.01 L290.67,353.56 L290.80,353.09 L290.94,352.63 L291.08,352.16 L291.23,351.68 L291.37,351.20 L291.52,350.71 L291.67,350.22 L291.82,349.73 L291.97,349.23 L292.13,348.73 L292.28,348.23 L292.44,347.72 L292.60,347.21 L292.77,346.69 L292.93,346.18 L293.10,345.65 L293.27,345.13 L293.44,344.61 L293.61,344.08 L293.79,343.55 L293.96,343.02 L294.14,342.48 L294.32,341.94 L294.50,341.41 L294.69,340.87 L294.87,340.33 L295.06,339.78 L295.25,339.24 L295.44,338.69 L295.64,338.15 L295.83,337.60 L296.03,337.05 L296.23,336.50 L296.43,335.96 L296.63,335.41 L296.83,334.86 L297.04,334.31 L297.24,333.75 L297.45,333.20 L297.66,332.65 L297.87,332.10 L298.09,331.55 L298.30,331.00 L298.52,330.45 L298.74,329.90 L298.96,329.36 L299.18,328.81 L299.40,328.26 L299.63,327.71 L299.86,327.17 L300.08,326.62 L300.31,326.08 L300.55,325.54 L300.78,325.00 L301.01,324.46 L301.25,323.92 L301.49,323.38 L301.72,322.84 L301.97,322.31 L302.21,321.78 L302.45,321.25 L302.70,320.72 L302.94,320.19 L303.19,319.66 L303.44,319.14 L303.69,318.62 L303.94,318.10 L304.20,317.58 L304.45,317.07 L304.71,316.55 L304.97,316.04 L305.23,315.53 L305.49,315.03 L305.75,314.52 L306.02,314.02 L306.28,313.52 L306.55,313.03 L306.82,312.53 L307.09,312.04 L307.36,311.55 L307.63,311.07 L307.91,310.58 L308.18,310.10 L308.46,309.62 L308.74,309.15 L309.02,308.68 L309.30,308.21 L309.58,307.74 L309.87,307.28 L310.15,306.82 L310.44,306.36 L310.73,305.91 L311.02,305.46 L311.31,305.01 L311.60,304.56 L311.89,304.12 L312.19,303.68 L312.48,303.25 L312.78,302.82 L313.08,302.39 L313.38,301.96 L313.68,301.54 L313.98,301.12 L314.29,300.71 L314.59,300.30 L314.90,299.89 L315.21,299.48 L315.52,299.08 L315.83,298.68 L316.14,298.29 L316.45,297.90 L316.76,297.51 L317.08,297.12 L317.40,296.74 L317.72,296.37 L318.03,295.99 L318.36,295.62 L318.68,295.25 L319.00,294.89 L319.32,294.53 L319.65,294.17 L319.98,293.82 L320.31,293.47 L320.63,293.13 L320.97,292.78 L321.30,292.44 L321.63,292.11 L321.96,291.78 L322.30,291.45 L322.64,291.13 L322.97,290.80 L323.31,290.49 L323.65,290.17 L324.00,289.86 L324.34,289.56 L324.68,289.25 L325.03,288.95 L325.37,288.66 L325.72,288.36 L326.07,288.08 L326.42,287.79 L326.77,287.51 L327.12,287.23 L327.48,286.95 L327.83,286.68 L328.19,286.42 L328.55,286.15 L328.90,285.89 L329.26,285.63 L329.62,285.38 L329.99,285.13 L330.35,284.88 L330.71,284.64 L331.08,284.40 L331.44,284.16 L331.81,283.93 L332.18,283.70 L332.55,283.47 L332.92,283.25 L333.29,283.03 L333.67,282.81 L334.04,282.60 L334.42,282.39 L334.79,282.18 L335.17,281.98 L335.55,281.78 L335.93,281.58 L336.31,281.39 L336.69,281.20 L337.08,281.01 L337.46,280.83 L337.85,280.65 L338.24,280.47 L338.62,280.30 L339.01,280.12 L339.40,279.96 L339.79,279.79 L340.19,279.63 L340.58,279.47 L340.97,279.32 L341.37,279.16 L341.77,279.02 L342.16,278.87 L342.56,278.73 L342.96,278.59 L343.36,278.45 L343.77,278.31 L344.17,278.18 L344.57,278.05 L344.98,277.93 L345.39,277.81 L345.79,277.69 L346.20,277.57 L346.61,277.46 L347.02,277.35 L347.43,277.24 L347.85,277.13 L348.26,277.03 L348.68,276.93 L349.09,276.83 L349.51,276.74 L349.93,276.65 L350.35,276.56 L350.77,276.47 L351.19,276.39 L351.61,276.31 L352.04,276.23 L352.46,276.15 L352.89,276.08 L353.31,276.01 L353.74,275.94 L354.17,275.87 L354.60,275.81 L355.03,275.75 L355.46,275.69 L355.89,275.64 L356.33,275.58 L356.76,275.53 L357.20,275.48 L357.64,275.44 L358.07,275.39 L358.51,275.35 L358.95,275.31 L359.39,275.28 L359.84,275.24 L360.28,275.21 L360.72,275.18 L361.17,275.15 L361.61,275.12 L362.06,275.10 L362.51,275.08 L362.96,275.06 L363.41,275.04 L363.86,275.03 L364.31,275.02 L364.77,275.01 L365.22,275.00 L365.68,274.99 L366.13,274.99 L366.59,274.98 L367.05,274.98 L367.51,274.98 L367.97,274.99 L368.43,274.99 L368.89,275.00 L369.35,275.01 L369.82,275.02 L370.28,275.03 L370.75,275.05 L371.22,275.06 L371.68,275.08 L372.15,275.10 L372.62,275.13 L373.09,275.15 L373.57,275.17 L374.04,275.20 L374.51,275.23 L374.99,275.26 L375.46,275.29 L375.94,275.33 L376.42,275.36 L376.90,275.40 L377.38,275.44 L377.86,275.48 L378.34,275.52 L378.82,275.56 L379.31,275.61 L379.79,275.66 L380.28,275.70 L380.76,275.75 L381.25,275.81 L381.74,275.86 L382.23,275.91 L382.72,275.97 L383.21,276.02 L383.70,276.08 L384.19,276.14 L384.69,276.20 L385.18,276.27 L385.68,276.33 L386.18,276.39 L386.67,276.46 L387.17,276.53 L387.67,276.60 L388.17,276.67 L388.67,276.74 L389.18,276.81 L389.68,276.89 L390.18,276.96 L390.69,277.04 L391.20,277.11 L391.70,277.19 L392.21,277.27 L392.72,277.35 L393.23,277.44 L393.74,277.52 L394.25,277.60 L394.77,277.69 L395.28,277.78 L395.79,277.86 L396.31,277.95 L396.83,278.04 L397.34,278.13 L397.86,278.22 L398.38,278.32 L398.90,278.41 L399.42,278.50 L399.94,278.60 L400.47,278.70 L400.99,278.79 L401.52,278.89 L402.04,278.99 L402.57,279.09 L403.09,279.19 L403.62,279.29 L404.15,279.40 L404.68,279.50 L405.21,279.60 L405.75,279.71 L406.28,279.81 L406.81,279.92 L407.35,280.03 L407.88,280.14 L408.42,280.25 L408.96,280.36 L409.49,280.47 L410.03,280.58 L410.57,280.69 L411.11,280.80 L411.65,280.92 L412.20,281.03 L412.74,281.14 L413.29,281.26 L413.83,281.38 L414.38,281.49 L414.92,281.61 L415.47,281.73 L416.02,281.85 L416.57,281.96 L417.12,282.08 L417.67,282.20 L418.22,282.33 L418.78,282.45 L419.33,282.57 L419.89,282.69 L420.44,282.81 L421.00,282.94 L421.56,283.06 L422.12,283.19 L422.67,283.31 L423.23,283.44 L423.80,283.56 L424.36,283.69 L424.92,283.82 L425.48,283.95 L426.05,284.07 L426.61,284.20 L427.18,284.33 L427.75,284.46 L428.32,284.59 L428.88,284.72 L429.45,284.85 L430.02,284.98 L430.60,285.11 L431.17,285.24 L431.74,285.38 L432.32,285.51 L432.89,285.64 L433.47,285.77 L434.04,285.91 L434.62,286.04 L435.20,286.17 L435.78,286.31 L436.36,286.44 L436.94,286.58 L437.52,286.71 L438.10,286.85 L438.69,286.98 L439.27,287.12 L439.85,287.26 L440.44,287.39 L441.03,287.53 L441.62,287.67 L442.20,287.80 L442.79,287.94 L443.38,288.08 L443.97,288.22 L444.57,288.36 L445.16,288.49 L445.75,288.63 L446.35,288.77 L446.94,288.91 L447.54,289.05 L448.13,289.19 L448.73,289.33 L449.33,289.47 L449.93,289.61 L450.53,289.75 L451.13,289.89 L451.73,290.03 L452.33,290.17 L452.94,290.31 L453.54,290.45 L454.15,290.59 L454.75,290.73 L455.36,290.87 L455.97,291.01 L456.58,291.15 L457.19,291.29 L457.80,291.43 L458.41,291.58 L459.02,291.72 L459.63,291.86 L460.24,292.00 L460.86,292.14 L461.47,292.28 L462.09,292.43 L462.71,292.57 L463.32,292.71 L463.94,292.85 L464.56,292.99 L465.18,293.13 L465.80,293.28 L466.42,293.42 L467.04,293.56 L467.67,293.70 L468.29,293.84 L468.92,293.99 L469.54,294.13 L470.17,294.27 L470.79,294.41 L471.42,294.55 L472.05,294.70 L472.68,294.84 L473.31,294.98 L473.94,295.12 L474.57,295.26 L475.21,295.41 L475.84,295.55 L476.47,295.69 L477.11,295.83 L477.75,295.97 L478.38,296.11 L479.02,296.25 L479.66,296.40 L480.30,296.54 L480.94,296.68 L481.58,296.82 L482.22,296.96 L482.86,297.10 L483.51,297.24 L484.15,297.38 L484.79,297.53 L485.44,297.67 L486.09,297.81 L486.73,297.95 L487.38,298.09 L488.03,298.23 L488.68,298.37 L489.33,298.51 L489.98,298.65 L490.63,298.79 L491.28,298.93 L491.94,299.07 L492.59,299.21 L493.25,299.35 L493.90,299.49 L494.56,299.63 L495.22,299.77 L495.87,299.91 L496.53,300.04 L497.19,300.18 L497.85,300.32 L498.51,300.46 L499.18,300.60 L499.84,300.74 L500.50,300.87 L501.17,301.01 L501.83,301.15 L502.50,301.29 L503.16,301.43 L503.83,301.56 L504.50,301.70 L505.17,301.84 L505.84,301.97 L506.51,302.11 L507.18,302.25 L507.85,302.38 L508.53,302.52 L509.20,302.66 L509.87,302.79 L510.55,302.93 L511.22,303.06 L511.90,303.20 L512.58,303.33 L513.26,303.47 L513.94,303.60 L514.62,303.74 L515.30,303.87 L515.98,304.01 L516.66,304.14 L517.34,304.27 L518.03,304.41 L518.71,304.54 L519.40,304.67 L520.08,304.81 L520.77,304.94 L521.45,305.07 L522.14,305.20 L522.83,305.34 L523.52,305.47 L524.21,305.60 L524.90,305.73 L525.59,305.86 L526.29,305.99 L526.98,306.13 L527.67,306.26 L528.37,306.39 L529.07,306.52 L529.76,306.65 L530.46,306.78 L531.16,306.91 L531.86,307.04 L532.55,307.17 L533.25,307.30 L533.96,307.42 L534.66,307.55 L535.36,307.68 L536.06,307.81 L536.77,307.94 L537.47,308.06 L538.18,308.19 L538.88,308.32 L539.59,308.45 L540.30,308.57 L541.01,308.70 L541.71,308.83 L542.42,308.95 L543.14,309.08 L543.85,309.20 L544.56,309.33 L545.27,309.45 L545.99,309.58 L546.70,309.70 L547.41,309.83 L548.13,309.95 L548.85,310.08 L549.56,310.20 L550.28,310.32 L551.00,310.45 L551.72,310.57 L552.44,310.69 L553.16,310.82 L553.88,310.94 L554.61,311.06 L555.33,311.18 L556.05,311.30 L556.78,311.43 L557.50,311.55 L558.23,311.67 L558.96,311.79 L559.68,311.91 L560.41,312.03 L561.14,312.15 L561.87,312.27 L562.60,312.39 L563.33,312.51 L564.06,312.63 L564.80,312.74 L565.53,312.86 L566.26,312.98 L567.00,313.10 L567.73,313.22 L568.47,313.33 L569.21,313.45 L569.94,313.57 L570.68,313.69 L571.42,313.80 L572.16,313.92 L572.90,314.03 L573.64,314.15 L574.39,314.27 L575.13,314.38 L575.87,314.50 L576.62,314.61 L577.36,314.72 L578.11,314.84 L578.85,314.95 L579.60,315.07 L580.35,315.18 L581.10,315.29 L581.85,315.41 L582.60,315.52 L583.35,315.63 L584.10,315.74 L584.85,315.86 L585.60,315.97 L586.36,316.08 L587.11,316.19 L587.87,316.30 L588.62,316.41 L589.38,316.52 L590.13,316.63 L590.89,316.74 L591.65,316.85 L592.41,316.96 L593.17,317.07 L593.93,317.18 L594.69,317.29 L595.45,317.40 L596.22,317.50 L596.98,317.61 L597.74,317.72 L598.51,317.83 L599.27,317.93 L600.04,318.04 L600.81,318.15 L601.58,318.25 L602.34,318.36 L603.11,318.47 L603.88,318.57 L604.65,318.68 L605.42,318.78 L606.20,318.89 L606.97,318.99 L607.74,319.10 L608.52,319.20 L609.29,319.30 L610.07,319.41 L610.84,319.51 L611.62,319.62 L612.40,319.72 L613.18,319.82 L613.95,319.92 L614.73,320.03 L615.51,320.13 L616.30,320.23 L617.08,320.33 L617.86,320.43 L618.64,320.53 L619.43,320.63 L620.21,320.73 L621.00,320.83 L621.78,320.93 L622.57,321.03 L623.36,321.13 L624.14,321.23 L624.93,321.33 L625.72,321.43 L626.51,321.53 L627.30,321.63 L628.09,321.72 L628.89,321.82 L629.68,321.92 L630.47,322.02 L631.27,322.11 L632.06,322.21 L632.86,322.31 L633.65,322.40 L634.45,322.50 L635.25,322.60 L636.05,322.69 L636.85,322.79" stroke="#00aa00"/>
</g>
<g font-weight="bold" font-size="22" fill="#000" letter-spacing="0">
<text transform="translate(87.33,387.00) rotate(0.05) scale(1,1.05)" font-size="22">0</text>
<text transform="translate(177.67,387.00) rotate(0.05) scale(1,1.05)" font-size="22">2</text>
<text transform="translate(268.01,387.00) rotate(0.05) scale(1,1.05)" font-size="22">4</text>
<text transform="translate(358.35,387.00) rotate(0.05) scale(1,1.05)" font-size="22">6</text>
<text transform="translate(448.69,387.00) rotate(0.05) scale(1,1.05)" font-size="22">8</text>
<path transform="translate(532.52,387.00) scale(0.010742,-0.010742)" d="M806,0H525V1059C430,972 300,893 161,846V1092C262,1126 352,1181 432,1250C512,1320 562,1396 590,1472H806Z"/><text transform="translate(545.15,387.00) rotate(0.05) scale(1,1.05)" font-size="22">0</text>
<path transform="translate(622.86,387.00) scale(0.010742,-0.010742)" d="M806,0H525V1059C430,972 300,893 161,846V1092C262,1126 352,1181 432,1250C512,1320 562,1396 590,1472H806Z"/><text transform="translate(635.49,387.00) rotate(0.05) scale(1,1.05)" font-size="22">2</text>
<text transform="translate(34.59,368.70) rotate(0.05) scale(1,1.05)" font-size="22">0.00</text>
<text transform="translate(34.59,310.59) rotate(0.05) scale(1,1.05)" font-size="22">0.05</text>
<text transform="translate(34.59,252.48) rotate(0.05) scale(1,1.05)" font-size="22">0</text><text transform="translate(46.82,252.48) rotate(0.05) scale(1,1.05)" font-size="22">.</text><path transform="translate(52.54,252.48) scale(0.010742,-0.010742)" d="M806,0H525V1059C430,972 300,893 161,846V1092C262,1126 352,1181 432,1250C512,1320 562,1396 590,1472H806Z"/><text transform="translate(65.17,252.48) rotate(0.05) scale(1,1.05)" font-size="22">0</text>
<text transform="translate(34.59,194.37) rotate(0.05) scale(1,1.05)" font-size="22">0</text><text transform="translate(46.82,194.37) rotate(0.05) scale(1,1.05)" font-size="22">.</text><path transform="translate(52.54,194.37) scale(0.010742,-0.010742)" d="M806,0H525V1059C430,972 300,893 161,846V1092C262,1126 352,1181 432,1250C512,1320 562,1396 590,1472H806Z"/><text transform="translate(65.17,194.37) rotate(0.05) scale(1,1.05)" font-size="22">5</text>
<text transform="translate(34.59,136.26) rotate(0.05) scale(1,1.05)" font-size="22">0.20</text>
<text transform="translate(34.59,78.15) rotate(0.05) scale(1,1.05)" font-size="22">0.25</text>
<text transform="translate(34.59,20.04) rotate(0.05) scale(1,1.05)" font-size="22">0.30</text>
</g>
<g font-weight="bold" font-size="21.7" fill="#000" letter-spacing="0">
<text transform="translate(364.3,420.9) rotate(0.05) scale(1,1.072)" text-anchor="middle">Radius (r/M)</text>
<text transform="translate(19.6,187.2) rotate(-90) scale(1,1.072)" text-anchor="middle">Potential</text>
</g>
<g fill="none" stroke-width="4.0">
<line x1="362.2" y1="47.8" x2="453.5" y2="47.8" stroke="#0000ff" stroke-dasharray="5.2 3.6 11.6 3.3"/>
<line x1="366" y1="47.8" x2="368" y2="47.8" stroke="#0000ff"/>
<line x1="362.2" y1="82.4" x2="451" y2="82.4" stroke="#ff0000" stroke-dasharray="5.6 3.57"/>
<line x1="362.2" y1="117.65" x2="447.5" y2="117.65" stroke="#00aa00"/>
</g>
<g fill="#0000ff">
<text transform="translate(459.78,55.80) rotate(0.05) scale(1,1.04)" font-size="18.0" font-weight="normal" font-style="normal">(</text>
<text transform="translate(466.06,55.40) rotate(0.05) scale(1,1.04)" font-size="18.0" font-weight="bold">O</text>
<path d="M472.96,51.40 L479.76,55.60" stroke="#0000ff" stroke-width="2.3" fill="none"/>
<text transform="translate(480.80,55.40) rotate(0.05) scale(1,1.04)" font-size="18.0" font-weight="normal" font-style="normal">/</text>
<text transform="translate(485.98,55.40) rotate(0.05) scale(1,1.04)" font-size="18.0" font-weight="bold" font-style="italic">M</text>
<text transform="translate(501.75,47.90) rotate(0.05) scale(1,1.04)" font-size="15.8" font-weight="bold" font-style="normal">2</text>
<text transform="translate(512.99,55.80) rotate(0.05) scale(1,1.04)" font-size="18.0" font-weight="normal" font-style="normal">)</text>
<text transform="translate(518.12,56.20) rotate(0.05) scale(1,0.92)" font-size="18.0" font-weight="normal" font-style="normal" stroke="#0000ff" stroke-width="0.35">=</text>
<text transform="translate(529.19,55.40) rotate(0.05) scale(1,1.04)" font-size="18.0" font-weight="bold" font-style="normal">0</text>
</g>
<g fill="#ff0000">
<text transform="translate(459.78,90.80) rotate(0.05) scale(1,1.04)" font-size="18.0" font-weight="normal" font-style="normal">(</text>
<text transform="translate(466.06,90.40) rotate(0.05) scale(1,1.04)" font-size="18.0" font-weight="bold">O</text>
<path d="M472.96,86.40 L479.76,90.60" stroke="#ff0000" stroke-width="2.3" fill="none"/>
<text transform="translate(480.80,90.40) rotate(0.05) scale(1,1.04)" font-size="18.0" font-weight="normal" font-style="normal">/</text>
<text transform="translate(485.98,90.40) rotate(0.05) scale(1,1.04)" font-size="18.0" font-weight="bold" font-style="italic">M</text>
<text transform="translate(501.75,82.90) rotate(0.05) scale(1,1.04)" font-size="15.8" font-weight="bold" font-style="normal">2</text>
<text transform="translate(512.99,90.80) rotate(0.05) scale(1,1.04)" font-size="18.0" font-weight="normal" font-style="normal">)</text>
<text transform="translate(518.12,91.20) rotate(0.05) scale(1,0.92)" font-size="18.0" font-weight="normal" font-style="normal" stroke="#ff0000" stroke-width="0.35">=</text>
<path transform="translate(529.08,90.40) scale(0.008789,-0.008789)" d="M806,0H525V1059C430,972 300,893 161,846V1092C262,1126 352,1181 432,1250C512,1320 562,1396 590,1472H806Z"/>
</g>
<g fill="#00aa00">
<text transform="translate(454.38,125.60) rotate(0.05) scale(1,1.04)" font-size="18.0" font-weight="normal" font-style="normal">(</text>
<text transform="translate(460.66,125.20) rotate(0.05) scale(1,1.04)" font-size="18.0" font-weight="bold">O</text>
<path d="M467.56,121.20 L474.36,125.40" stroke="#00aa00" stroke-width="2.3" fill="none"/>
<text transform="translate(475.40,125.20) rotate(0.05) scale(1,1.04)" font-size="18.0" font-weight="normal" font-style="normal">/</text>
<text transform="translate(480.58,125.20) rotate(0.05) scale(1,1.04)" font-size="18.0" font-weight="bold" font-style="italic">M</text>
<text transform="translate(496.35,117.70) rotate(0.05) scale(1,1.04)" font-size="15.8" font-weight="bold" font-style="normal">2</text>
<text transform="translate(507.59,125.60) rotate(0.05) scale(1,1.04)" font-size="18.0" font-weight="normal" font-style="normal">)</text>
<text transform="translate(512.72,126.00) rotate(0.05) scale(1,0.92)" font-size="18.0" font-weight="normal" font-style="normal" stroke="#00aa00" stroke-width="0.35">=</text>
<path transform="translate(523.48,125.20) scale(0.008789,-0.008789)" d="M806,0H525V1059C430,972 300,893 161,846V1092C262,1126 352,1181 432,1250C512,1320 562,1396 590,1472H806Z"/>
<text transform="translate(533.39,125.20) rotate(0.05) scale(1,1.04)" font-size="18.0" font-weight="bold" font-style="normal">0</text>
</g>
</svg>
</body></html>
